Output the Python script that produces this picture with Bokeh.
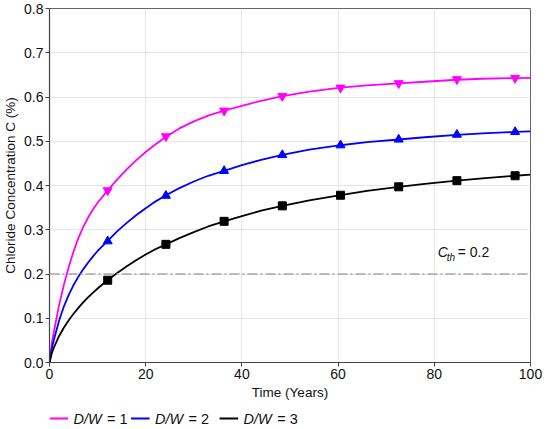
from bokeh.plotting import figure
from bokeh.layouts import column
from bokeh.models import Range1d, Label, NumeralTickFormatter, FixedTicker, Span
from bokeh.core.properties import value
from bokeh.embed import file_html
from bokeh.resources import INLINE

# ---- data ----
curve_x = [0, 0.5, 1, 2, 3, 4, 5, 6, 7, 8, 9, 10, 12.1, 14, 16, 18, 20, 22, 24.2, 27, 30, 33, 36.3,
           40, 44, 48.4, 54, 60.5, 66, 72.6, 78, 84.7, 90, 96.8, 100]
dw1_curve = [0, 0.045, 0.075, 0.130, 0.176, 0.216, 0.251, 0.281, 0.306, 0.327, 0.345, 0.361, 0.389,
             0.4128, 0.4358, 0.4568, 0.4758, 0.4928, 0.510, 0.529, 0.545, 0.558, 0.569,
             0.580, 0.5915, 0.602, 0.612, 0.621, 0.6265, 0.631, 0.6345, 0.639, 0.6412, 0.6428, 0.6432]
dw2_curve = [0, 0.033, 0.055, 0.095, 0.127, 0.153, 0.175, 0.194, 0.2105, 0.2255, 0.2393, 0.252, 0.275,
             0.2958, 0.315, 0.3326, 0.3488, 0.3636, 0.378, 0.394, 0.409, 0.422, 0.433,
             0.446, 0.458, 0.469, 0.481, 0.491, 0.498, 0.504, 0.509, 0.5145, 0.518, 0.521, 0.5225]
dw3_curve = [0, 0.022, 0.036, 0.060, 0.079, 0.0955, 0.1102, 0.1235, 0.1357, 0.147, 0.1575, 0.1673, 0.1864,
             0.2015, 0.217, 0.2312, 0.2441, 0.256, 0.267, 0.281, 0.2948, 0.3074, 0.319,
             0.331, 0.343, 0.354, 0.3665, 0.378, 0.388, 0.397, 0.4035, 0.411, 0.416, 0.422, 0.4245]

marker_x = [12.1, 24.2, 36.3, 48.4, 60.5, 72.6, 84.7, 96.8]
dw1_marks = [0.389, 0.511, 0.569, 0.602, 0.621, 0.631, 0.640, 0.643]
dw2_marks = [0.274, 0.377, 0.433, 0.469, 0.491, 0.504, 0.515, 0.521]
dw3_marks = [0.186, 0.267, 0.319, 0.354, 0.378, 0.397, 0.411, 0.422]

series_names = ["D/W", "D/W", "D/W"]
series_values = ["= 1", "= 2", "= 3"]
series_colors = ["#ff00ff", "#0000ff", "#000000"]
threshold = 0.2
x_ticks = [0, 20, 40, 60, 80, 100]
y_ticks = [0.0, 0.1, 0.2, 0.3, 0.4, 0.5, 0.6, 0.7, 0.8]

FONT = "Liberation Sans"

p = figure(frame_width=481, frame_height=354, output_backend="svg", toolbar_location=None,
           x_range=Range1d(0, 100), y_range=Range1d(0, 0.8),
           min_border_left=0, min_border_right=12, min_border_top=8, min_border_bottom=0)

p.outline_line_color = "#666666"
p.outline_line_width = 1
p.background_fill_color = "white"
p.border_fill_color = "white"

for ax in (p.xaxis[0], p.yaxis[0]):
    ax.axis_line_color = "#444444"
    ax.axis_line_width = 1.2
    ax.major_tick_line_color = "#444444"
    ax.major_tick_out = 4
    ax.major_tick_in = 0
    ax.minor_tick_line_color = None
    ax.major_label_text_font = FONT
    ax.major_label_text_font_size = "14px"
    ax.major_label_text_color = "#111111"
    ax.axis_label_text_font = FONT
    ax.axis_label_text_font_size = "13.5px"
    ax.axis_label_text_font_style = "normal"
    ax.axis_label_text_color = "#111111"
    ax.major_label_standoff = 2
    ax.axis_label_standoff = 3

p.xaxis.ticker = FixedTicker(ticks=x_ticks)
p.yaxis.ticker = FixedTicker(ticks=y_ticks)
p.yaxis.formatter = NumeralTickFormatter(format="0.0")
p.xaxis.axis_label = "Time (Years)"
p.yaxis.axis_label = "Chloride Concentration C (%)"

p.xgrid.ticker = FixedTicker(ticks=x_ticks)
p.ygrid.ticker = FixedTicker(ticks=y_ticks)
p.grid.grid_line_color = "#e6e6e6"
p.grid.grid_line_width = 1

# threshold line
p.add_layout(Span(location=threshold, dimension="width", line_color="#a8a8a8",
                  line_width=1.5, line_dash="10 3 2 3"))

curves = [dw1_curve, dw2_curve, dw3_curve]
marks = [dw1_marks, dw2_marks, dw3_marks]
markers = ["inverted_triangle", "triangle", "square"]
for col, cy, my, mk in zip(series_colors, curves, marks, markers):
    p.line(curve_x, cy, line_color=col, line_width=1.8)
    p.scatter(marker_x, my, marker=mk, size=9 if mk != "square" else 8,
              fill_color=col, line_color=col)

# C_th label
p.add_layout(Label(x=80.7, y=0.232, text="C", text_font=FONT, text_font_size="14px",
                   text_font_style="italic", text_color="#111111"))
p.add_layout(Label(x=80.7, y=0.232, x_offset=9, y_offset=-3, text="th", text_font=FONT,
                   text_font_size="10px", text_font_style="italic", text_color="#111111"))
p.add_layout(Label(x=80.7, y=0.232, x_offset=20, text="= 0.2", text_font=FONT,
                   text_font_size="14px", text_color="#111111"))

# ---- legend strip (separate small figure, pixel-like coordinates) ----
LW, LH = 534, 24
leg = figure(width=LW, height=LH, output_backend="svg", toolbar_location=None,
             x_range=Range1d(0, LW), y_range=Range1d(0, LH),
             min_border=0, outline_line_color=None)
leg.axis.visible = False
leg.grid.visible = False
leg_line_x0 = [0, 92, 192]
leg_line_len = 21
leg_y = 8
for i, col in enumerate(series_colors):
    x0 = leg_line_x0[i]
    leg.segment(x0=[x0], y0=[leg_y], x1=[x0 + leg_line_len], y1=[leg_y], line_color=col, line_width=1.8)
    leg.text(x=[x0 + leg_line_len + 6], y=[leg_y], text=[series_names[i]], text_font=value(FONT),
             text_font_size="14.5px", text_font_style="italic", text_baseline="middle",
             text_color="#111111")
    leg.text(x=[x0 + leg_line_len + 44], y=[leg_y], text=[series_values[i]], text_font=value(FONT),
             text_font_size="14.5px", text_baseline="middle", text_color="#111111")

open("out.html", "w").write(file_html(column(p, leg, spacing=0), INLINE))
